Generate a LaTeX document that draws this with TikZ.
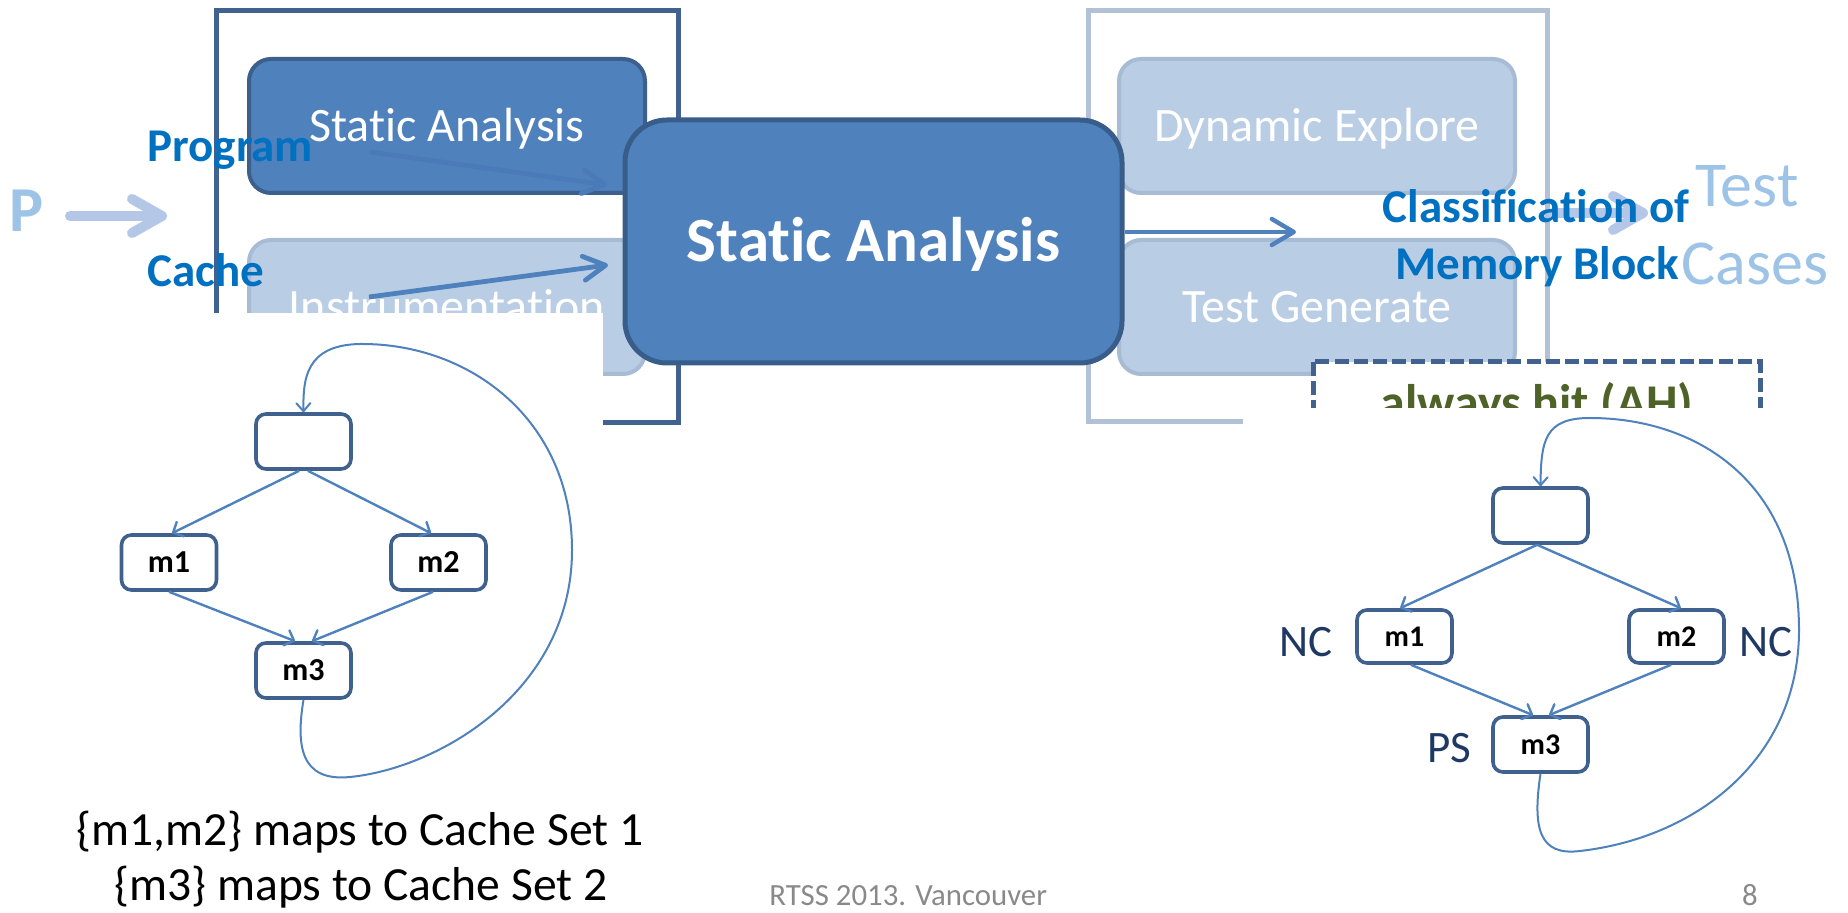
\documentclass[tikz,border=0pt]{standalone}
\usepackage{fontspec}
\setmainfont{Carlito}[Ligatures={NoCommon}]
\usetikzlibrary{arrows.meta,calc}

\definecolor{darkfill}{HTML}{4F81BD}
\definecolor{darkline}{HTML}{3C5F8C}
\definecolor{mainline}{HTML}{385D8A}
\definecolor{lightfill}{HTML}{B9CDE5}
\definecolor{lightline}{HTML}{A8BBD5}
\definecolor{frameleft}{HTML}{41628F}
\definecolor{frameright}{HTML}{B2C1D6}
\definecolor{labelblue}{HTML}{0070C0}
\definecolor{ghosttext}{HTML}{9DC3E6}
\definecolor{ghostarrow}{HTML}{B4C7E7}
\definecolor{hiddenarrow}{HTML}{4A7BB8}
\definecolor{olive}{HTML}{4F6228}
\definecolor{navy}{HTML}{1F3864}
\definecolor{footgrey}{HTML}{898989}
\definecolor{cfgline}{HTML}{40608E}
\definecolor{edgeblue}{HTML}{4F81BD}

\newcommand\setfs[1]{\fontsize{#1pt}{#1pt}\selectfont}

\begin{document}
\begin{tikzpicture}[x=0.5pt,y=-0.5pt,
  stagebox/.style={rounded corners=11pt, line width=2pt, minimum width=198pt,
    minimum height=67pt, inner sep=0pt, text=white, font=\setfs{24},
    text height=15.5pt, text depth=0pt},
  darkstage/.style={stagebox, fill=darkfill, draw=darkline},
  lightstage/.style={stagebox, fill=lightfill, draw=lightline},
  mainbox/.style={rounded corners=21pt, line width=2.5pt, fill=darkfill,
    draw=mainline, minimum width=248.5pt, minimum height=121.5pt, inner sep=0pt,
    text=white, font=\bfseries\setfs{31.5}, text height=20.3pt, text depth=0pt},
  flowarrow/.style={draw=darkfill, line width=2.2pt,
    -{Straight Barb[length=11pt,width=13pt,round]}},
  bigghost/.style={draw=ghostarrow, line width=5pt, line cap=round,
    -{Straight Barb[length=15pt,width=17pt,round]}},
  bluelbl/.style={inner sep=0pt, text=labelblue, font=\bfseries\setfs{23.5}},
  ghostlbl/.style={inner sep=0pt, text=ghosttext, font=\setfs{32}},
  cfgbox/.style={draw=cfgline, line width=1.8pt, rounded corners=5pt, fill=white,
    minimum width=47.5pt, minimum height=27.5pt, inner sep=0pt,
    font=\bfseries\setfs{16}, text height=10pt, text depth=0pt},
  cfgedge/.style={draw=edgeblue, line width=1.2pt,
    -{Straight Barb[length=4pt,width=8pt,round]}},
  loopedge/.style={draw=edgeblue, line width=1pt,
    -{Straight Barb[length=4pt,width=7pt,round]}},
  statelbl/.style={inner sep=0pt, text=navy, font=\setfs{22.5}},
  caption/.style={inner sep=0pt, text=black, font=\setfs{23.8}},
  footer/.style={inner sep=0pt, text=footgrey, font=\setfs{15.4}}
]
\useasboundingbox (0,0) rectangle (1848,913);

% stage frames
\draw[frameleft, line width=2.5pt] (216,11) rectangle (678,423);
\draw[frameright, line width=2.5pt] (1088,11) rectangle (1547,422);

% stages inside the frames
\node[darkstage]  (sa)  at (447,126)  {Static Analysis};
\node[lightstage] (ins) at (447,307)  {Instrumentation};
\node[lightstage] (dyn) at (1317,126) {Dynamic Explore};
\node[lightstage] (tg)  at (1317,307) {Test Generate};

% inputs into the analysis
\coordinate (progA) at (370,152);
\coordinate (progB) at (607,185);
\coordinate (cacheA) at (369,297);
\coordinate (cacheB) at (608,265);
\draw[draw=hiddenarrow, line width=2.4pt, -{Straight Barb[length=11pt,width=12pt,round]}] (progA) -- (progB);
\draw[draw=darkfill, line width=2.4pt, -{Straight Barb[length=11pt,width=12pt,round]}] (cacheA) -- (cacheB);

% central stage
\node[mainbox] (main) at (873.5,241.5) {Static Analysis};
\coordinate (clsin) at (1296,232);
\draw[flowarrow] (main.east |- clsin) -- (clsin);

% pipeline input and output
\coordinate (pA) at (70,216);
\coordinate (pB) at (167,216);
\draw[bigghost] (pA) -- (pB);
\node[ghostlbl, font=\bfseries\setfs{32}, anchor=base west] (p) at (9,232) {P};
\coordinate (tA) at (1553,213);
\coordinate (tB) at (1648,213);
\draw[bigghost] (tA) -- (tB);
\node[ghostlbl, anchor=base west] (test) at (1695,207) {Test};
\node[ghostlbl, anchor=base west] (cases) at (1681,285) {Cases};

% labels
\node[bluelbl, anchor=base west] (prog) at (147,162) {Program};
\node[bluelbl, anchor=base west] (cache) at (147,287) {Cache};
\node[bluelbl, anchor=base] (cls1) at (1536,223) {Classification of};
\node[bluelbl, anchor=base] (cls2) at (1537,280) {Memory Block};

% classification box
\draw[draw=frameleft, fill=white, line width=2.5pt, dash pattern=on 7pt off 2.6pt]
  (1313,362) rectangle (1760,480);
\node[inner sep=0pt, text=olive, font=\bfseries\setfs{25}, anchor=base] (ah) at (1537,420) {always hit (AH)};

% graph panels
\fill[white] (0,313) rectangle (603,913);
\fill[white] (1243,408) rectangle (1848,913);

% left control-flow graph
\node[cfgbox] (lt)  at (303.5,441.5) {};
\node[cfgbox] (lm1) at (169,562.5)   {m1};
\node[cfgbox] (lm2) at (438.5,562.5) {m2};
\node[cfgbox] (lm3) at (303.5,670.5) {m3};
\draw[cfgedge] ([xshift=-2.2pt]lt.south) -- ([xshift=1.5pt]lm1.north);
\draw[cfgedge] ([xshift=2.2pt]lt.south) -- ([xshift=-3.7pt]lm2.north);
\draw[cfgedge] (lm1.south) -- ([xshift=-4.2pt]lm3.north);
\draw[cfgedge] ([xshift=-2.7pt]lm2.south) -- ([xshift=4.2pt]lm3.north);
\draw[loopedge] (lm3.south) .. controls (296,745) and (300,782) .. (350,777)
  .. controls (440,768) and (572,690) .. (572,550)
  .. controls (572,420) and (470,343) .. (360,344)
  .. controls (305,345) and (303,380) .. (lt.north);

\node[caption, anchor=base] (cap1) at (360,846) {\{m1,m2\} maps to Cache Set 1};
\node[caption, anchor=base] (cap2) at (361,900) {\{m3\} maps to Cache Set 2};

% right control-flow graph
\node[cfgbox, font=\bfseries\setfs{15}] (rt)  at (1540.5,515.5) {};
\node[cfgbox, font=\bfseries\setfs{15}, minimum height=26.5pt] (rm1) at (1404.5,636.5) {m1};
\node[cfgbox, font=\bfseries\setfs{15}, minimum height=26.5pt] (rm2) at (1676.5,636.5) {m2};
\node[cfgbox, font=\bfseries\setfs{15}] (rm3) at (1540.5,744.5) {m3};
\draw[cfgedge] ([xshift=-1.7pt]rt.south) -- ([xshift=-2.2pt]rm1.north);
\draw[cfgedge] ([xshift=-1.7pt]rt.south) -- ([xshift=2.2pt]rm2.north);
\draw[cfgedge] ([xshift=3.2pt]rm1.south) -- ([xshift=-3.7pt]rm3.north);
\draw[cfgedge] ([xshift=-2.7pt]rm2.south) -- ([xshift=4.2pt]rm3.north);
\draw[loopedge] (rm3.south) .. controls (1532,830) and (1540,856) .. (1580,851)
  .. controls (1695,838) and (1799,760) .. (1799,630)
  .. controls (1799,480) and (1695,418) .. (1590,418)
  .. controls (1545,418) and (1541,440) .. (rt.north);
\node[statelbl, anchor=base west] (nc1) at (1279,657) {NC};
\node[statelbl, anchor=base west] (nc2) at (1739,657) {NC};
\node[statelbl, anchor=base west] (ps)  at (1427,763) {PS};

% footer
\node[footer, anchor=base west] (foot) at (769,906) {RTSS 2013. Vancouver};
\node[footer, anchor=base east] (page) at (1758,906) {8};
\end{tikzpicture}
\end{document}
